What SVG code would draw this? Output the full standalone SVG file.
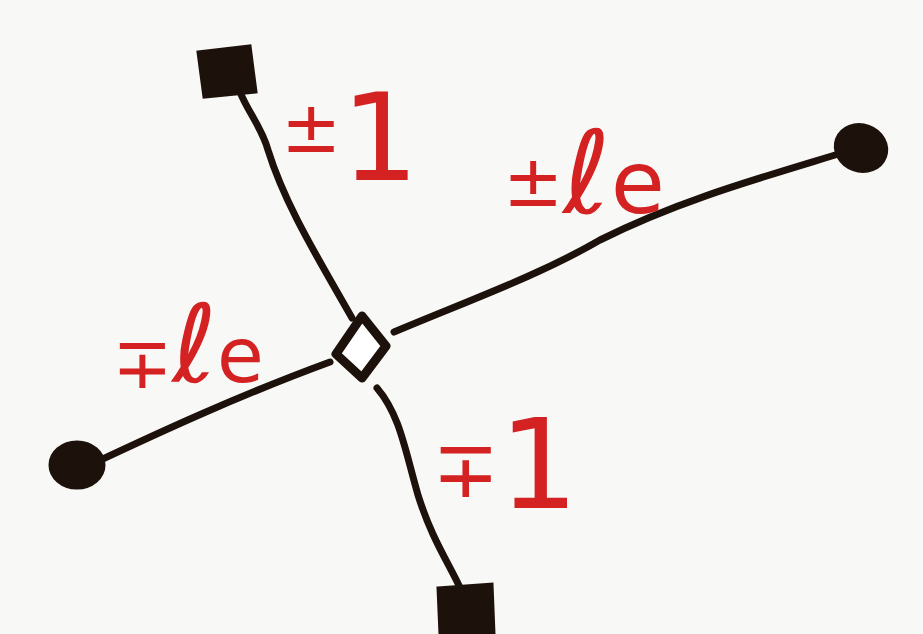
<svg xmlns="http://www.w3.org/2000/svg" width="923" height="634" viewBox="0 0 923 634">
<style>
.ln{fill:none;stroke:#1d110b;stroke-width:7;stroke-linecap:round;stroke-linejoin:round}
.blob{fill:#1d110b;stroke:#1d110b;stroke-width:3}
.lbl{font-family:"DejaVu Sans",sans-serif;fill:#d42121}
</style>
<rect width="923" height="634" fill="#f8f8f6"/>
<g id="connectors">
<path class="ln" d="M240,92 C248,112 262,128 268,150 C285,205 318,258 352,318"/>
<path class="ln" d="M394,332 C470,300 540,275 600,240 C680,200 760,178 845,152"/>
<path class="ln" d="M90,465 C160,432 240,395 330,362"/>
<path class="ln" d="M377,388 C400,415 405,450 418,495 C432,540 450,565 462,592"/>
</g>
<g id="center">
<path d="M362,316 L386,346 L362,378 L336,354 Z" fill="#ffffff" stroke="#1d110b" stroke-width="9" stroke-linejoin="round"/>
</g>
<g id="top-square">
<path class="blob" d="M198,52 L250,46 L256,92 L204,97 Z"/>
</g>
<g id="right-circle">
<ellipse class="blob" cx="861" cy="148" rx="26" ry="23" transform="rotate(20 861 148)"/>
</g>
<g id="left-circle">
<ellipse class="blob" cx="77" cy="465" rx="27" ry="23"/>
</g>
<g id="bottom-square">
<path class="blob" d="M438,588 L492,584 L494,634 L440,634 Z"/>
</g>
<g id="labels">
<text class="lbl" x="281" y="152"><tspan font-size="72">±</tspan><tspan dy="28" font-size="122">1</tspan></text>
<text class="lbl" x="503" y="206"><tspan font-size="72">±</tspan><tspan dy="7" font-size="115">ℓ</tspan><tspan font-size="88">e</tspan></text>
<text class="lbl" x="112" y="388"><tspan font-size="72">∓</tspan><tspan dy="-6" font-size="108">ℓ</tspan><tspan font-size="76">e</tspan></text>
<text class="lbl" x="432" y="497"><tspan font-size="80">∓</tspan><tspan dy="11" font-size="125">1</tspan></text>
</g>
</svg>
